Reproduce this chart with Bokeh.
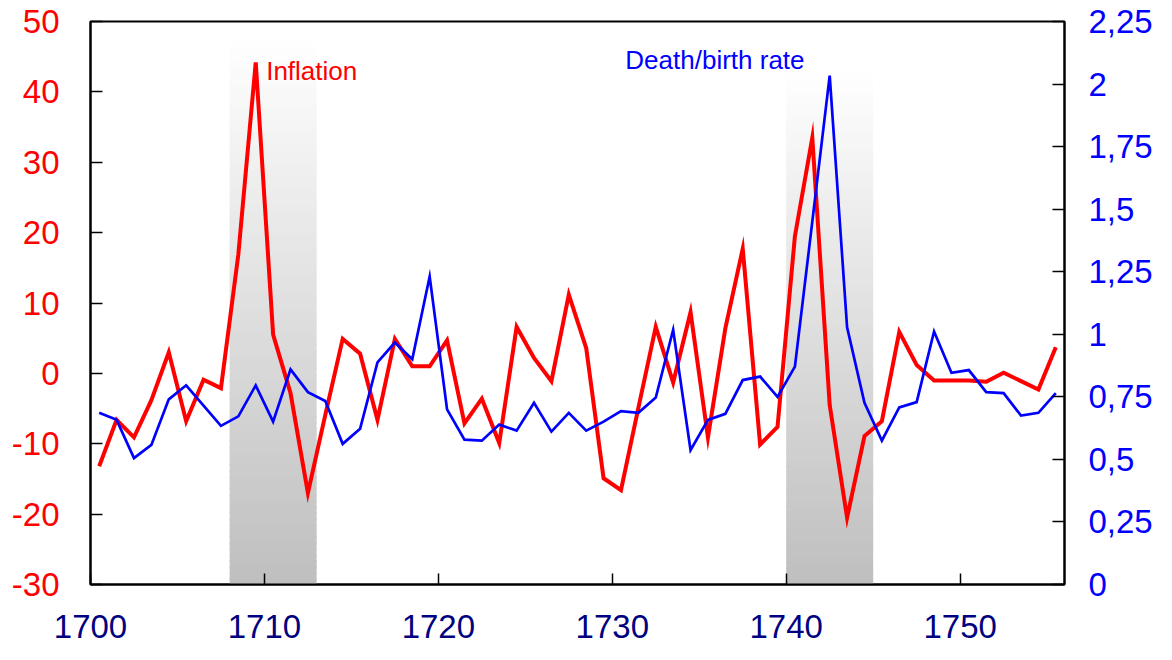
from bokeh.plotting import figure
from bokeh.models import Range1d, LinearAxis, FixedTicker
from bokeh.core.properties import value
from bokeh.embed import file_html
from bokeh.resources import INLINE

# ---------------- data ----------------
years = list(range(1700, 1756))
inflation = [-13.2, -6.6, -9.1, -3.8, 3.0, -6.8, -0.9, -2.1, 16.9, 44.2,
             5.5, -2.8, -17.0, -5.9, 4.9, 2.8, -6.6, 4.9, 1.0, 1.0,
             4.7, -7.1, -3.6, -9.9, 6.6, 2.2, -1.1, 11.2, 3.6, -14.9,
             -16.6, -4.9, 6.6, -1.3, 8.7, -9.1, 6.4, 17.7, -10.1, -7.6,
             19.5, 33.5, -4.5, -20.5, -8.9, -6.8, 5.9, 1.2, -1.0, -1.0,
             -1.0, -1.2, 0.1, -1.1, -2.3, 3.7]
death_birth = [0.686, 0.658, 0.505, 0.558, 0.740, 0.796, 0.715, 0.634, 0.672, 0.796,
               0.651, 0.860, 0.769, 0.733, 0.562, 0.622, 0.888, 0.967, 0.900, 1.231,
               0.700, 0.579, 0.575, 0.639, 0.615, 0.726, 0.611, 0.686, 0.615, 0.651,
               0.693, 0.686, 0.747, 1.018, 0.537, 0.658, 0.682, 0.817, 0.831, 0.750,
               0.871, 1.450, 2.034, 1.028, 0.726, 0.575, 0.708, 0.729, 1.011, 0.846,
               0.857, 0.769, 0.765, 0.675, 0.686, 0.765]

x_ticks = [1700, 1710, 1720, 1730, 1740, 1750]
x_tick_labels = ["1700", "1710", "1720", "1730", "1740", "1750"]
left_ticks = [-30, -20, -10, 0, 10, 20, 30, 40, 50]
left_tick_labels = ["-30", "-20", "-10", "0", "10", "20", "30", "40", "50"]
right_ticks = [0.0, 0.25, 0.5, 0.75, 1.0, 1.25, 1.5, 1.75, 2.0, 2.25]
right_tick_labels = ["0", "0,25", "0,5", "0,75", "1", "1,25", "1,5", "1,75", "2", "2,25"]

shade_start = [1708, 1740]
shade_end = [1713, 1745]
shade_top = [47.0, 42.5]
shade_bottom = [-30.0, -30.0]

series_names = ["Inflation", "Death/birth rate"]
series_colors = ["#ff0000", "#0000ff"]
name_x = [1710.1, 1730.75]
name_y = [42.9, 44.6]

FONT = "Liberation Sans"

# ---------------- figure ----------------
p = figure(width=1156, height=644,
           x_range=Range1d(1700, 1756), y_range=Range1d(-30, 50),
           output_backend="svg", toolbar_location=None,
           min_border_left=90, min_border_right=92,
           min_border_top=21, min_border_bottom=60)
p.extra_y_ranges = {"rate": Range1d(0, 2.25)}
p.grid.visible = False
p.background_fill_color = "white"
p.border_fill_color = "white"
p.outline_line_color = "black"
p.outline_line_width = 2

# gradient shaded periods (white at top -> grey at bottom)
N = 90
for s, e, t, b in zip(shade_start, shade_end, shade_top, shade_bottom):
    h = (t - b) / N
    lefts, rights, tops, bottoms, cols = [], [], [], [], []
    for k in range(N):
        frac = k / (N - 1)
        g = round(254 - (254 - 191) * frac)
        lefts.append(s)
        rights.append(e)
        tops.append(t - k * h)
        bottoms.append(max(b, t - (k + 1) * h - h * 0.3))
        cols.append("#%02x%02x%02x" % (g, g, g))
    p.quad(left=lefts, right=rights, top=tops, bottom=bottoms,
           fill_color=cols, line_color=None)

x_mid = [y + 0.5 for y in years]
p.line(x_mid, inflation, line_color=series_colors[0], line_width=4,
       line_join="miter")
p.line(x_mid, death_birth, line_color=series_colors[1], line_width=2.7,
       line_join="miter", y_range_name="rate")

for nm, c, xx, yy in zip(series_names, series_colors, name_x, name_y):
    p.text(x=[xx], y=[yy], text=[nm], text_color=c,
           text_font=value(FONT), text_font_size="26px",
           text_align="left", text_baseline="alphabetic")

# x axis
xa = p.below[0]
xa.ticker = FixedTicker(ticks=x_ticks)
xa.major_label_overrides = dict(zip(x_ticks, x_tick_labels))
xa.major_label_text_color = "#000080"
xa.major_label_text_font = FONT
xa.major_label_text_font_size = "33px"
xa.major_label_standoff = 30
xa.major_tick_in = 11
xa.major_tick_out = 0
xa.minor_tick_in = 0
xa.minor_tick_out = 0
xa.axis_line_width = 2
xa.axis_line_color = "black"
xa.major_tick_line_color = "black"
xa.major_tick_line_width = 1.5

# left axis
ya = p.left[0]
ya.ticker = FixedTicker(ticks=left_ticks)
ya.major_label_overrides = dict(zip(left_ticks, left_tick_labels))
ya.major_label_text_color = "#ff0000"
ya.major_label_text_font = FONT
ya.major_label_text_font_size = "33px"
ya.major_label_standoff = 31
ya.major_tick_in = 12
ya.major_tick_out = 0
ya.minor_tick_in = 0
ya.minor_tick_out = 0
ya.axis_line_width = 2
ya.axis_line_color = "black"
ya.major_tick_line_color = "black"
ya.major_tick_line_width = 1.5

# right axis
ra = LinearAxis(y_range_name="rate", ticker=FixedTicker(ticks=right_ticks))
ra.major_label_overrides = dict(zip(right_ticks, right_tick_labels))
ra.major_label_text_color = "#0000ff"
ra.major_label_text_font = FONT
ra.major_label_text_font_size = "33px"
ra.major_label_standoff = 24
ra.major_tick_in = 12
ra.major_tick_out = 0
ra.minor_tick_in = 0
ra.minor_tick_out = 0
ra.axis_line_width = 2
ra.axis_line_color = "black"
ra.major_tick_line_color = "black"
ra.major_tick_line_width = 1.5
p.add_layout(ra, "right")

open("out.html", "w").write(file_html(p, INLINE))
